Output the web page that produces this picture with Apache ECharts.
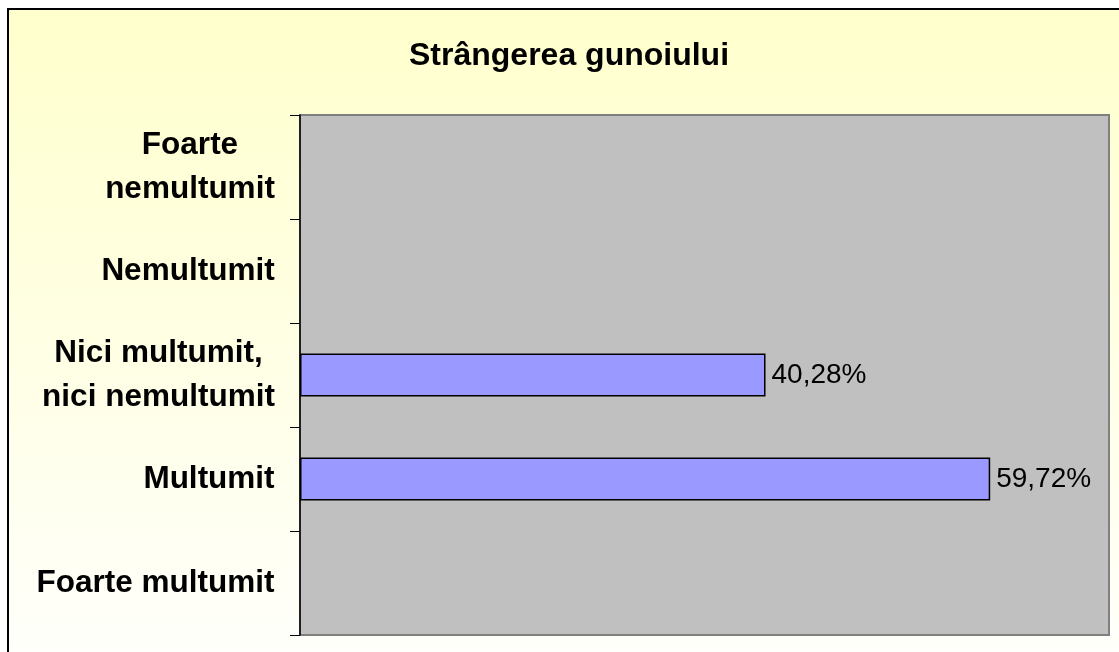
<!DOCTYPE html>
<html>
<head>
<meta charset="utf-8">
<title>Strângerea gunoiului</title>
<script src="https://cdn.jsdelivr.net/npm/echarts@6/dist/echarts.min.js"></script>
<style>
  html, body { margin: 0; padding: 0; background: #fff; }
  #chart { width: 1119px; height: 652px; }
</style>
</head>
<body>
<div id="chart"></div>
<script>
// date
const categories = [
  "Foarte\nnemultumit",
  "Nemultumit",
  "Nici multumit,\nnici nemultumit",
  "Multumit",
  "Foarte multumit"
];
const values = ["-", "-", 40.28, 59.72, "-"];
const titleText = "Strângerea gunoiului";

const FONT = '"Liberation Sans", Arial, sans-serif';
const LABEL_SIZE = 31.5;

// latimea celui mai lung rand, ca randurile sa fie centrate intre ele
const ctx = document.createElement("canvas").getContext("2d");
ctx.font = "bold " + LABEL_SIZE + "px " + FONT;
const rich = {};
categories.forEach((c, i) => {
  const w = Math.max(...c.split("\n").map((s) => ctx.measureText(s).width));
  rich["c" + i] = {
    width: Math.ceil(w),
    align: "center",
    fontSize: LABEL_SIZE,
    fontWeight: "bold",
    fontFamily: FONT,
    color: "#000",
    lineHeight: 44
  };
});

const myChart = echarts.init(document.getElementById("chart"));

myChart.setOption({
  backgroundColor: "#fff",
  animation: false,
  graphic: [
    {
      type: "rect",
      z: -10,
      silent: true,
      shape: { x: 8, y: 9, width: 1200, height: 700 },
      style: {
        fill: new echarts.graphic.LinearGradient(0, 0, 0, 1, [
          { offset: 0, color: "#FFFFCC" },
          { offset: 1, color: "#FFFFFF" }
        ]),
        stroke: "#000",
        lineWidth: 2
      }
    }
  ],
  title: {
    text: titleText,
    left: 404,
    top: 35,
    textStyle: {
      fontFamily: FONT,
      fontSize: 32,
      fontWeight: "bold",
      color: "#000"
    }
  },
  grid: {
    left: 300,
    top: 115,
    right: 10,
    bottom: 17,
    show: true,
    backgroundColor: "#C0C0C0",
    borderColor: "#808080",
    borderWidth: 2
  },
  xAxis: {
    type: "value",
    min: 0,
    max: 70,
    show: false,
    splitLine: { show: false }
  },
  yAxis: {
    type: "category",
    inverse: true,
    data: categories,
    axisLine: { show: true, lineStyle: { color: "#000", width: 1.5 } },
    axisTick: { show: true, length: 10, lineStyle: { color: "#000" } },
    axisLabel: {
      margin: 25,
      formatter: (v, i) =>
        v.split("\n").map((s) => "{c" + i + "|" + s + "}").join("\n"),
      rich: rich
    }
  },
  series: [
    {
      type: "bar",
      data: values,
      barWidth: 43,
      itemStyle: {
        color: "#9999FF",
        borderColor: "#000",
        borderWidth: 1.5
      },
      label: {
        show: true,
        position: "right",
        distance: 6,
        fontFamily: FONT,
        fontSize: 28,
        color: "#000",
        formatter: (p) => p.value.toFixed(2).replace(".", ",") + "%"
      }
    }
  ]
});
</script>
</body>
</html>
